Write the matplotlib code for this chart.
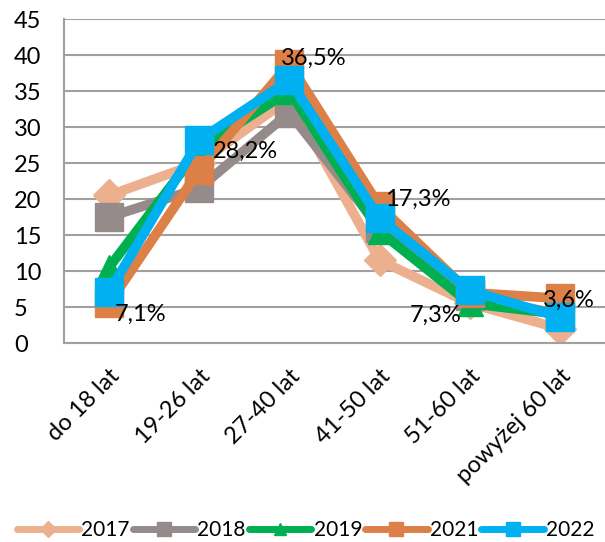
import matplotlib
matplotlib.use('Agg')
from matplotlib import pyplot as plt

categories = ['do 18 lat', '19-26 lat', '27-40 lat', '41-50 lat', '51-60 lat', 'powyżej 60 lat']
years = ['2017', '2018', '2019', '2021', '2022']
v2017 = [20.5, 25.0, 34.0, 11.5, 5.5, 2.0]
v2018 = [17.5, 21.5, 32.0, 16.0, 6.5, 4.0]
v2019 = [10.5, 27.0, 35.0, 15.5, 5.5, 4.0]
v2021 = [5.5, 24.0, 38.8, 19.0, 7.0, 6.2]
v2022 = [7.1, 28.2, 36.5, 17.3, 7.3, 3.6]
labels_2022 = ['7,1%', '28,2%', '36,5%', '17,3%', '7,3%', '3,6%']

colors = ['#EDB08F', '#958B8A', '#00B050', '#DD8047', '#00B0F0']
markers = ['D', 's', '^', 's', 's']
msizes = [16, 20, 18, 20, 20]

plt.rcParams['font.family'] = ['Lato', 'DejaVu Sans']

fig = plt.figure(dpi=100, figsize=(6.05, 5.42))
ax = fig.add_axes([64 / 605, 1 - 343 / 542, 1 - 64 / 605, (343 - 19) / 542])

x = list(range(len(categories)))
series = [v2017, v2018, v2019, v2021, v2022]
for vals, yr, c, m, ms in zip(series, years, colors, markers, msizes):
    ax.plot(x, vals, color=c, lw=7, marker=m, markersize=ms, label=yr,
            solid_joinstyle='miter', solid_capstyle='round')

offsets = [(4, -16), (10, -8), (-6, 16), (4, 14), (-6, -18), (-12, 12)]
has = ['left', 'left', 'left', 'left', 'right', 'left']
for i, lab in enumerate(labels_2022):
    ax.annotate(lab, (x[i], v2022[i]), xytext=offsets[i], textcoords='offset points',
                ha=has[i], va='center', fontsize=17)

ax.set_xlim(-0.5, len(categories) - 0.5)
ax.set_ylim(0, 45)
ax.set_yticks(range(0, 46, 5))
ax.set_xticks(x)
ax.set_xticklabels(categories, rotation=45, ha='right', rotation_mode='anchor', fontsize=17)
ax.tick_params(axis='y', labelsize=17, length=0, pad=36)
ax.tick_params(axis='x', length=0, pad=16)
for lab in ax.get_yticklabels():
    lab.set_horizontalalignment('left')
ax.grid(axis='y', color='#A0A0A0', lw=1.5)
ax.set_axisbelow(True)
for s in ['top', 'right']:
    ax.spines[s].set_visible(False)
for s in ['left', 'bottom']:
    ax.spines[s].set_color('#A0A0A0')
    ax.spines[s].set_linewidth(1.5)

leg = fig.legend(loc='center', bbox_to_anchor=(0.505, 0.022), ncol=5, frameon=False,
                 fontsize=15, handlelength=3.0, columnspacing=0.15, handletextpad=0.1,
                 markerscale=0.5, borderaxespad=0, borderpad=0)
for h in leg.legend_handles:
    h.set_linewidth(5)

fig.savefig('out.png', dpi=100)
